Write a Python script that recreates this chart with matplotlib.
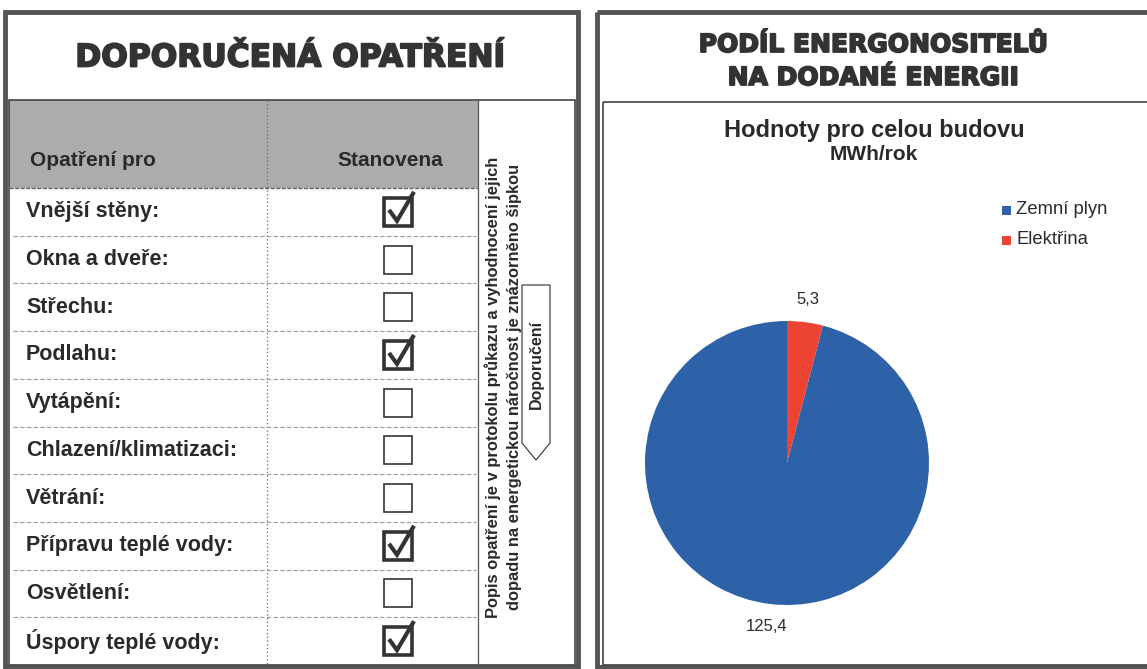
"""Energy certificate excerpt: recommended measures table + energy carrier pie."""

import matplotlib
matplotlib.use("Agg")
import matplotlib.pyplot as plt
import matplotlib.patheffects as pe
from matplotlib.patches import Rectangle, Polygon

# --- data -----------------------------------------------------------------
measures = [
    "Vnější stěny:", "Okna a dveře:", "Střechu:", "Podlahu:", "Vytápění:",
    "Chlazení/klimatizaci:", "Větrání:", "Přípravu teplé vody:", "Osvětlení:",
    "Úspory teplé vody:",
]
recommended = [True, False, False, True, False, False, False, True, False, True]

carriers = ["Zemní plyn", "Elektřina"]
energy_mwh = [125.4, 5.3]
carrier_colors = ["#2d62a8", "#ec4332"]

plt.rcParams["font.family"] = ["Liberation Sans", "DejaVu Sans"]
W, H = 1147, 669
fig = plt.figure(figsize=(W / 100, H / 100), dpi=100)
ax = fig.add_axes([0, 0, 1, 1])
ax.set_xlim(0, W)
ax.set_ylim(H, 0)
ax.axis("off")

heavy = [pe.withStroke(linewidth=1.3, foreground="#333333")]
INK = "#2a2a2a"
TITLE = dict(ha="center", va="center", weight="bold", color="#333333",
             family="DejaVu Sans", path_effects=heavy)

# --- left panel: recommended measures ---------------------------------------
ax.add_patch(Rectangle((5, 12), 573, 655, fill=False, lw=3.5, ec="#555555"))
ax.text(290, 58, "DOPORUČENÁ OPATŘENÍ", fontsize=22.5, **TITLE)

tbl_top, tbl_bot, tbl_left, tbl_mid, tbl_sep, tbl_right = 100, 665, 9, 267, 478, 575
hdr_bot = 188
ax.add_patch(Rectangle((tbl_left, tbl_top), tbl_sep - tbl_left, hdr_bot - tbl_top,
                       fc="#acacac", ec="none"))
ax.add_patch(Rectangle((tbl_left, tbl_top), tbl_right - tbl_left, tbl_bot - tbl_top,
                       fill=False, lw=1.2, ec="#444444"))
ax.plot([tbl_sep, tbl_sep], [tbl_top, tbl_bot], color="#555555", lw=0.9)
ax.plot([tbl_mid, tbl_mid], [tbl_top, tbl_bot], color="#666666", lw=0.9, ls=(0, (1, 2)))
ax.plot([tbl_left, tbl_sep], [hdr_bot, hdr_bot], color="#666666", lw=1.0, ls=(0, (3, 1)))
ax.text(30, 160, "Opatření pro", ha="left", va="center", fontsize=15, weight="bold", color=INK)
ax.text(390, 160, "Stanovena", ha="center", va="center", fontsize=15, weight="bold", color=INK)

row_h = (tbl_bot - hdr_bot) / len(measures)
box = 28
for i, (name, on) in enumerate(zip(measures, recommended)):
    yc = hdr_bot + (i + 0.5) * row_h
    ax.text(26, yc, name, ha="left", va="center", fontsize=15.5, weight="bold", color=INK)
    if i < len(measures) - 1:
        yl = hdr_bot + (i + 1) * row_h
        ax.plot([tbl_left + 4, tbl_sep - 2], [yl, yl], color="#9a9a9a", lw=0.8,
                ls=(0, (4, 2)))
    bx, by = 384, yc - box / 2
    ax.add_patch(Rectangle((bx, by), box, box, fill=False,
                           lw=2.6 if on else 1.2, ec="#333333"))
    if on:
        ax.plot([bx + 5, bx + 13, bx + box + 2],
                [by + 12, by + box - 5, by - 6],
                color="#333333", lw=3.0, solid_capstyle="butt", solid_joinstyle="miter")

# rotated note + arrow
ax.text(493, 387, "Popis opatření je v protokolu průkazu a vyhodnocení jejich",
        rotation=90, ha="center", va="center", fontsize=11.9, weight="bold", color=INK)
ax.text(514, 387, "dopadu na energetickou náročnost je znázorněno šipkou",
        rotation=90, ha="center", va="center", fontsize=11.9, weight="bold", color=INK)
ax.add_patch(Polygon([(522, 285), (550, 285), (550, 443), (536, 460), (522, 443)],
                     closed=True, fill=False, ec="#444444", lw=0.9))
ax.text(536, 364, "Doporučení", rotation=90, ha="center", va="center",
        fontsize=11.5, weight="bold", color=INK)

# --- right panel: energy carriers -------------------------------------------
ax.add_patch(Rectangle((597, 12), 560, 655, fill=False, lw=3.5, ec="#555555"))
ax.text(873, 45, "PODÍL ENERGONOSITELŮ", fontsize=18, **TITLE)
ax.text(873, 78, "NA DODANÉ ENERGII", fontsize=18, **TITLE)
ax.add_patch(Rectangle((603, 102), 560, 563, fill=False, lw=1.2, ec="#444444"))
ax.text(874, 130, "Hodnoty pro celou budovu", ha="center", va="center",
        fontsize=17, weight="bold", color=INK)
ax.text(874, 155, "MWh/rok", ha="center", va="center", fontsize=15,
        weight="bold", color=INK)

# legend
for j, (lab, col) in enumerate(zip(carriers, carrier_colors)):
    ly = 210 + j * 30
    ax.add_patch(Rectangle((1002, ly - 4.5), 9, 9, fc=col, ec="none"))
    ax.text(1016, ly, lab, ha="left", va="center", fontsize=13.3, color=INK)

# pie
cx, cy, r = 787, 463, 142
half = 1.3 * r
pax = fig.add_axes([(cx - half) / W, (H - cy - half) / H, 2 * half / W, 2 * half / H])
labels = [f"{v:.1f}".replace(".", ",") for v in energy_mwh]
wedges, texts = pax.pie(energy_mwh, colors=carrier_colors, startangle=90,
                        counterclock=True, labels=labels, labeldistance=1.16,
                        textprops=dict(fontsize=12, color=INK))
for t in texts:
    t.set_ha("center")
    t.set_va("center")
pax.set_xlim(-1.3, 1.3)
pax.set_ylim(-1.3, 1.3)
pax.set_aspect("equal")

fig.savefig("out.png", dpi=100)
